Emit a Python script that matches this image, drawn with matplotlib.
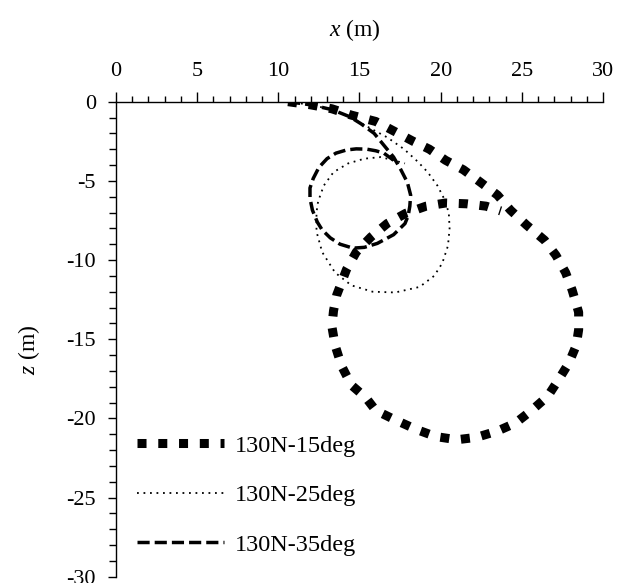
import matplotlib
matplotlib.use("Agg")
import matplotlib.pyplot as plt
from matplotlib.ticker import MultipleLocator

# --- Style ---
plt.rcParams['font.family'] = ['Liberation Serif', 'DejaVu Serif']
plt.rcParams['mathtext.fontset'] = 'custom'
plt.rcParams['mathtext.rm'] = 'Liberation Serif'
plt.rcParams['mathtext.it'] = 'Liberation Serif:italic'
plt.rcParams['axes.unicode_minus'] = False
TICK_FS = 16
LABEL_FS = 17
LEG_FS = 17.5

# --- Data ---
labels = ['130N-15deg', '130N-25deg', '130N-35deg']

x_15 = [10.6, 12.0, 13.3, 14.5, 16.0, 17.2, 18.3, 19.3, 20.3, 21.4, 22.4, 23.5,
        24.3, 25.3, 26.4, 27.1, 27.7, 28.1, 28.5, 28.5, 28.35, 27.9, 27.3, 26.6,
        25.6, 24.6, 23.5, 22.2, 21.0, 19.7, 18.5, 17.2, 16.0, 15.4, 14.5, 13.9,
        13.5, 13.3, 13.4, 13.6, 14.2, 14.8, 15.7, 16.7, 17.85, 19.1, 20.3, 21.6,
        22.8, 23.7]
z_15 = [0.0, -0.2, -0.45, -0.85, -1.25, -1.9, -2.5, -3.0, -3.7, -4.3, -5.05, -5.9,
        -6.85, -7.8, -8.75, -9.7, -10.8, -11.9, -13.3, -14.4, -15.4, -16.5, -17.5, -18.6,
        -19.5, -20.3, -20.8, -21.2, -21.35, -21.15, -20.7, -20.1, -19.5, -18.7, -17.9, -16.7,
        -15.4, -14.2, -13.2, -12.2, -10.6, -9.5, -8.55, -7.7, -7.05, -6.6, -6.4, -6.45,
        -6.6, -6.9]

x_25 = [10.6, 12.0, 13.3, 14.5, 15.7, 16.7, 17.75, 18.6, 19.2, 19.8, 20.2, 20.5,
        20.55, 20.45, 20.1, 19.6, 18.7, 17.2, 15.8, 14.5, 13.5, 12.7, 12.35, 12.35,
        12.45, 12.8, 13.4, 14.3, 15.3, 16.3, 17.1, 17.8]
z_25 = [0.0, -0.2, -0.5, -1.0, -1.7, -2.25, -3.0, -3.8, -4.45, -5.3, -6.1, -7.0,
        -8.0, -9.1, -10.2, -11.0, -11.7, -12.05, -12.0, -11.6, -10.8, -9.5, -8.2, -7.0,
        -6.3, -5.3, -4.45, -3.9, -3.6, -3.5, -3.7, -3.9]

x_35 = [10.6, 12.0, 13.3, 14.4, 15.1, 15.9, 16.5, 17.1, 17.55, 17.95, 18.15, 18.1,
        18.0, 17.8, 17.1, 16.1, 15.3, 14.6, 13.8, 13.2, 12.7, 12.4, 12.1, 11.95,
        11.95, 12.15, 12.5, 13.0, 13.55, 14.2, 14.8, 15.45, 16.0, 16.5, 17.1]
z_35 = [0.0, -0.2, -0.5, -0.95, -1.4, -2.0, -2.75, -3.5, -4.3, -5.1, -5.9, -6.6,
        -7.2, -7.7, -8.4, -8.95, -9.2, -9.25, -9.0, -8.6, -8.1, -7.6, -6.85, -6.1,
        -5.45, -4.85, -4.15, -3.6, -3.25, -3.05, -2.98, -3.0, -3.1, -3.25, -3.7]

x_ticks = [0, 5, 10, 15, 20, 25, 30]
z_ticks = [0, -5, -10, -15, -20, -25, -30]

# --- Figure ---
fig = plt.figure(figsize=(6.21, 5.83), dpi=100)
ax = fig.add_axes([0.1868, 0.0108, 0.7842, 0.8148])

ax.plot(x_15, z_15, color='black', lw=6.5, linestyle=(0, (1, 1.3)),
        dash_capstyle='butt', label=labels[0])
ax.plot(x_25, z_25, color='black', lw=1.3, linestyle=(0, (1, 2.6)),
        label=labels[1])
ax.plot(x_35, z_35, color='black', lw=2.5, linestyle=(0, (3.5, 1.45)),
        label=labels[2])

ax.set_xlim(0, 30)
ax.set_ylim(-30, 0)
ax.set_xticks(x_ticks)
ax.set_yticks(z_ticks)
ax.set_yticklabels([str(v) for v in z_ticks])
ax.xaxis.set_minor_locator(MultipleLocator(1))
ax.yaxis.set_minor_locator(MultipleLocator(1))

ax.xaxis.tick_top()
ax.spines['right'].set_visible(False)
ax.spines['bottom'].set_visible(False)
for s in ['top', 'left']:
    ax.spines[s].set_linewidth(1.0)

ax.tick_params(axis='x', which='major', direction='out', length=7, width=1,
               pad=8, labelsize=TICK_FS)
ax.tick_params(axis='x', which='minor', direction='out', length=4.5, width=1)
ax.tick_params(axis='y', which='major', direction='out', length=5.5, width=1,
               pad=9, labelsize=TICK_FS)
ax.tick_params(axis='y', which='minor', direction='out', length=5, width=1)

ax.set_xlabel('$x$ (m)', fontsize=LABEL_FS)
ax.xaxis.set_label_position('top')
ax.xaxis.set_label_coords(0.491, 1.138)
ax.set_ylabel('$z$ (m)', fontsize=LABEL_FS)
ax.yaxis.set_label_coords(-0.152, 0.477)

ax.legend(loc='upper left', bbox_to_anchor=(0.043, 0.299), frameon=False,
          fontsize=LEG_FS, handlelength=3.6, handletextpad=0.41, labelspacing=1.13,
          borderpad=0, borderaxespad=0)

fig.savefig('out.png', dpi=100)
